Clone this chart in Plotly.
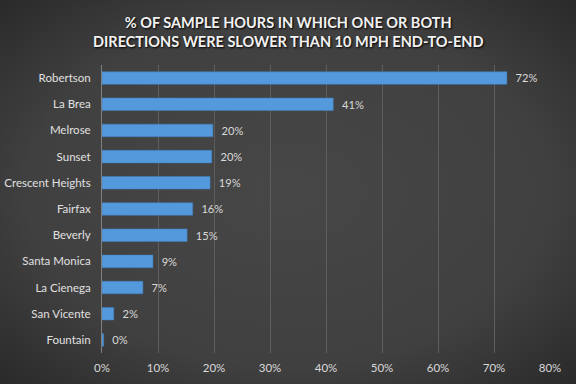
import plotly.graph_objects as go

categories = ["Robertson", "La Brea", "Melrose", "Sunset", "Crescent Heights", "Fairfax",
              "Beverly", "Santa Monica", "La Cienega", "San Vicente", "Fountain"]
values = [0.723, 0.413, 0.198, 0.196, 0.193, 0.162, 0.152, 0.091, 0.073, 0.021, 0.003]
tick_vals = [0, 0.1, 0.2, 0.3, 0.4, 0.5, 0.6, 0.7, 0.8]
tick_text = ["0%", "10%", "20%", "30%", "40%", "50%", "60%", "70%", "80%"]
title_text = "% OF SAMPLE HOURS IN WHICH ONE OR BOTH<br>DIRECTIONS WERE SLOWER THAN 10 MPH END-TO-END"

svg = ("data:image/svg+xml;utf8,<svg xmlns='http://www.w3.org/2000/svg' width='576' height='384'>"
       "<defs><radialGradient id='g' cx='50%' cy='50%' r='75%'>"
       "<stop offset='0%' stop-color='%23474747'/><stop offset='60%' stop-color='%23404040'/>"
       "<stop offset='100%' stop-color='%23262626'/></radialGradient></defs>"
       "<rect width='576' height='384' fill='url(%23g)'/></svg>")

fig = go.Figure(go.Bar(
    x=values, y=categories, orientation="h",
    marker=dict(color="#5499dc", line=dict(color="#3f7fbf", width=0.5)),
    texttemplate="  %{x:.0%}", textposition="outside",
    textfont=dict(color="#d9d9d9", size=11.5, family="Lato, Open Sans, sans-serif"),
    cliponaxis=False,
))

fig.update_layout(
    width=576, height=384,
    margin=dict(l=102, r=26, t=65, b=31, autoexpand=False),
    paper_bgcolor="#3a3a3a", plot_bgcolor="rgba(0,0,0,0)",
    bargap=0.52,
    showlegend=False,
    font=dict(family="Lato, Open Sans, sans-serif", color="#d9d9d9", size=11.5),
    images=[dict(source=svg, xref="paper", yref="paper", x=-102/448, y=1+65/288,
                 sizex=576/448, sizey=384/288, xanchor="left", yanchor="top",
                 sizing="stretch", layer="below")],
    annotations=[dict(text="<b>" + title_text + "</b>", xref="paper", yref="paper",
                      x=(288-102)/448, y=1+(65-52)/288, xanchor="center", yanchor="bottom",
                      showarrow=False, align="center",
                      font=dict(size=14.5, color="#f2f2f2", family="Lato, Open Sans, sans-serif",
                                shadow="1px 1px 2px #000000"))],
)
fig.update_xaxes(range=[0, 0.8], tickvals=tick_vals, ticktext=tick_text, automargin=False,
                 showgrid=True, gridcolor="#5e5e5e", gridwidth=1, zeroline=False,
                 ticks="", tickfont=dict(size=11.5, color="#d9d9d9"), ticklabelstandoff=6)
fig.update_yaxes(autorange="reversed", showline=True, linecolor="#808080", linewidth=1,
                 automargin=False, ticks="", ticklabelstandoff=8,
                 tickfont=dict(size=11.5, color="#e0e0e0"))

fig.write_html("out.html", config={"displayModeBar": False},
               post_script="document.body.style.margin='0';document.body.style.overflow='hidden';"
                           "document.body.style.background='#3a3a3a';")
